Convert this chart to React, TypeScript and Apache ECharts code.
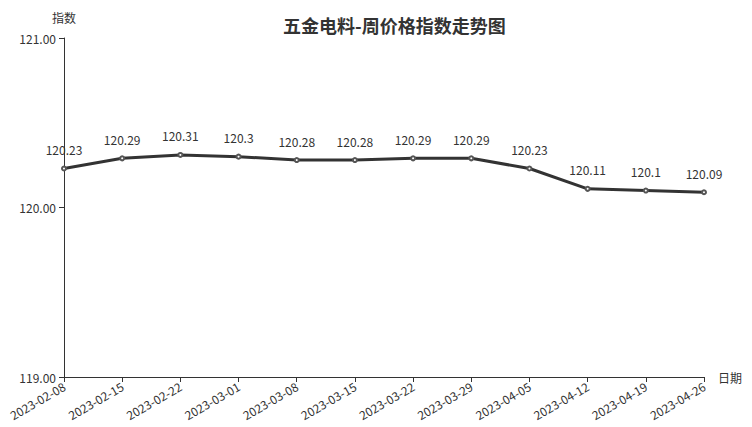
import React, { useEffect, useRef } from "react";
import * as echarts from "echarts";

const categories = [
  "2023-02-08", "2023-02-15", "2023-02-22", "2023-03-01", "2023-03-08", "2023-03-15",
  "2023-03-22", "2023-03-29", "2023-04-05", "2023-04-12", "2023-04-19", "2023-04-26",
];
const values = [120.23, 120.29, 120.31, 120.3, 120.28, 120.28, 120.29, 120.29, 120.23, 120.11, 120.1, 120.09];
const titleText = "五金电料-周价格指数走势图";
const yName = "指数";
const xName = "日期";

const FONT = "'Noto Sans CJK SC', 'Noto Sans', sans-serif";

export default function App() {
  const ref = useRef<HTMLDivElement>(null);
  useEffect(() => {
    if (!ref.current) return;
    const chart = echarts.init(ref.current, undefined, { renderer: "svg" });
    chart.setOption({
      animation: false,
      textStyle: { fontFamily: FONT, color: "#333" },
      title: {
        text: titleText,
        left: 278,
        top: 11,
        textStyle: { fontSize: 18, fontWeight: "bold", color: "#333", fontFamily: FONT },
      },
      grid: { left: 64, right: 48, top: 38, bottom: 50 },
      xAxis: {
        type: "category",
        data: categories,
        boundaryGap: false,
        name: xName,
        nameGap: 14,
        nameTextStyle: { fontSize: 12, color: "#333", fontFamily: FONT },
        axisLine: { lineStyle: { color: "#333" } },
        axisTick: { alignWithLabel: true, lineStyle: { color: "#333" } },
        axisLabel: { rotate: 30, interval: 0, fontSize: 12, color: "#333", fontFamily: FONT, margin: 8 },
      },
      yAxis: {
        type: "value",
        min: 119,
        max: 121,
        interval: 1,
        name: yName,
        nameGap: 15,
        nameTextStyle: { fontSize: 12, color: "#333", fontFamily: FONT },
        axisLine: { show: true, lineStyle: { color: "#333" } },
        axisTick: { show: true, lineStyle: { color: "#333" } },
        splitLine: { show: false },
        axisLabel: { formatter: (v: number) => v.toFixed(2), fontSize: 12, color: "#333", fontFamily: FONT },
      },
      series: [
        {
          type: "line",
          data: values,
          symbol: "emptyCircle",
          symbolSize: 4,
          lineStyle: { color: "#333", width: 3 },
          itemStyle: { color: "#555", borderWidth: 1 },
          label: { show: true, position: "top", distance: 10, fontSize: 12, color: "#333", fontFamily: FONT },
        },
      ],
    });
    return () => chart.dispose();
  }, []);
  return <div ref={ref} style={{ position: "absolute", left: 0, top: 0, width: 752, height: 427 }} />;
}
